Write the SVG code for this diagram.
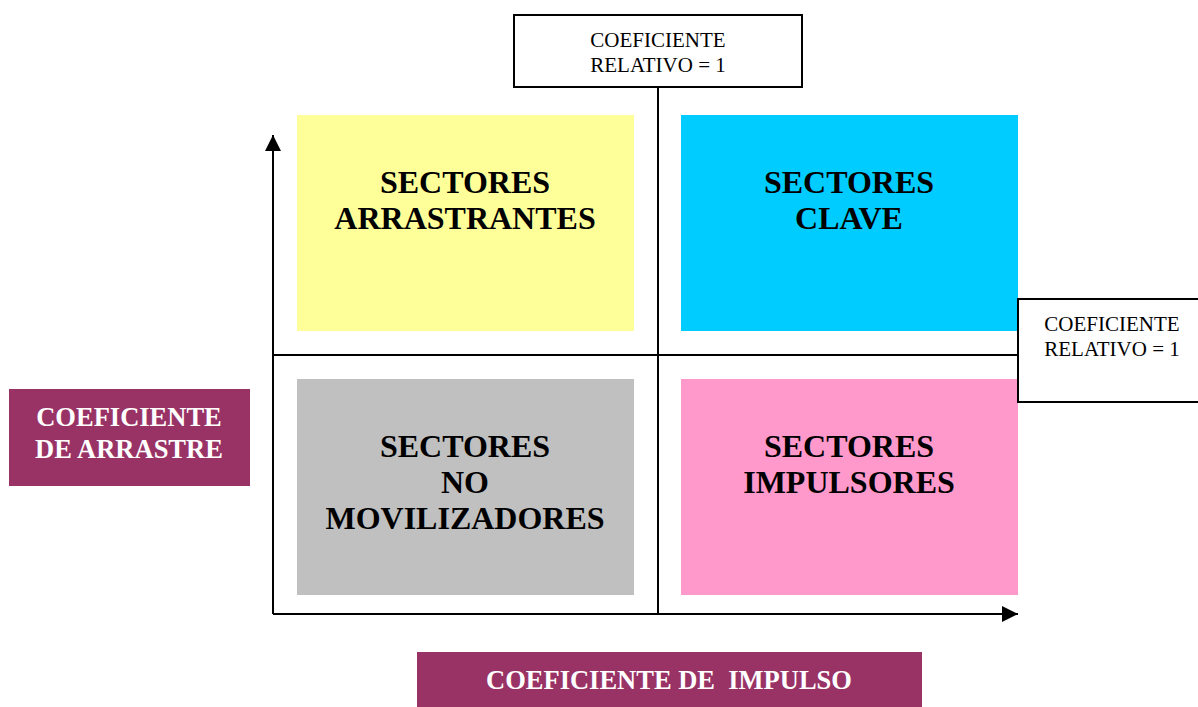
<svg xmlns="http://www.w3.org/2000/svg" width="1198" height="707" viewBox="0 0 1198 707">
<style>
.q{font-family:"Liberation Serif","Times New Roman",serif;font-weight:bold;font-size:32px;fill:#000;text-anchor:middle}
.s{font-family:"Liberation Serif","Times New Roman",serif;font-size:21px;fill:#000;text-anchor:middle}
.w{font-family:"Liberation Serif","Times New Roman",serif;font-weight:bold;font-size:26.5px;fill:#fff;text-anchor:middle}
.ln{stroke:#000;stroke-width:2;fill:none}
.bx{fill:#fff;stroke:#000;stroke-width:2}
.pu{fill:#993366}
</style>
<defs>
<marker id="ah" viewBox="0 0 10 10" refX="10" refY="5" markerWidth="16" markerHeight="16" markerUnits="userSpaceOnUse" orient="auto">
<path d="M0,0 L10,5 L0,10 z" fill="#000"/>
</marker>
</defs>
<g id="connectors">
<line class="ln" x1="658" y1="87" x2="658" y2="614"/>
<line class="ln" x1="273" y1="355" x2="1018" y2="355"/>
<line class="ln" x1="273" y1="614" x2="273" y2="135" marker-end="url(#ah)"/>
<line class="ln" x1="273" y1="614" x2="1018" y2="614" marker-end="url(#ah)"/>
</g>
<g id="arrastrantes">
<rect x="297" y="115" width="337" height="216" fill="#FFFF99"/>
<text class="q" x="465" y="193">SECTORES</text>
<text class="q" x="465" y="229">ARRASTRANTES</text>
</g>
<g id="clave">
<rect x="681" y="115" width="337" height="216" fill="#00CCFF"/>
<text class="q" x="849" y="193">SECTORES</text>
<text class="q" x="849" y="229">CLAVE</text>
</g>
<g id="nomovilizadores">
<rect x="297" y="379" width="337" height="216" fill="#C0C0C0"/>
<text class="q" x="465" y="457">SECTORES</text>
<text class="q" x="465" y="493">NO</text>
<text class="q" x="465" y="529">MOVILIZADORES</text>
</g>
<g id="impulsores">
<rect x="681" y="379" width="337" height="216" fill="#FF99CC"/>
<text class="q" x="849" y="457">SECTORES</text>
<text class="q" x="849" y="493">IMPULSORES</text>
</g>
<g id="coef-top">
<rect class="bx" x="514" y="15" width="288" height="72"/>
<text class="s" x="658" y="47">COEFICIENTE</text>
<text class="s" x="658" y="72">RELATIVO = 1</text>
</g>
<g id="coef-right">
<rect class="bx" x="1018" y="299" width="190" height="103"/>
<text class="s" x="1112" y="331">COEFICIENTE</text>
<text class="s" x="1112" y="356">RELATIVO = 1</text>
</g>
<g id="arrastre">
<rect class="pu" x="9" y="389" width="241" height="97"/>
<text class="w" x="129" y="426">COEFICIENTE</text>
<text class="w" x="129" y="458">DE ARRASTRE</text>
</g>
<g id="impulso">
<rect class="pu" x="417" y="652" width="505" height="55"/>
<text class="w" x="669" y="689" xml:space="preserve">COEFICIENTE DE  IMPULSO</text>
</g>
</svg>
